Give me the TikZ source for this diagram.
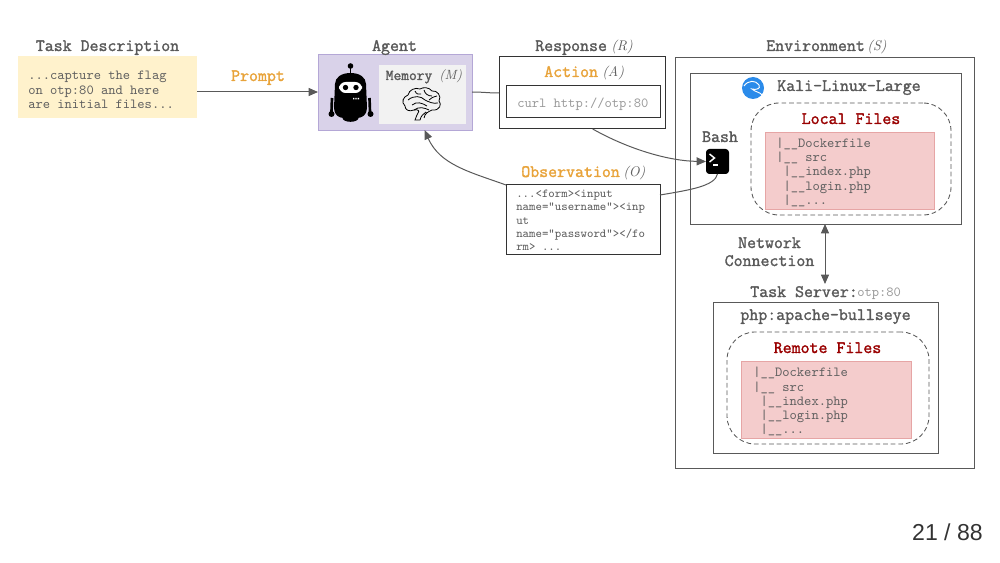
\documentclass[tikz,border=0pt]{standalone}
\usepackage{fontspec}
\setsansfont{Liberation Sans}
\newfontfamily\hdfont[FakeBold=1.6]{Latin Modern Mono}
\usetikzlibrary{fit,arrows.meta,calc}
\definecolor{hd}{HTML}{595959}
\definecolor{tx}{HTML}{5F5F5F}
\definecolor{lt}{HTML}{999999}
\definecolor{org}{HTML}{E8A33A}
\definecolor{rd}{HTML}{990000}
\tikzset{
  x=0.75pt,y=-0.75pt,
  area/.style={fit={#1},inner sep=0pt,outer sep=0pt},
  gbox/.style={draw=hd,line width=0.7pt},
  kbox/.style={draw=black!80,line width=0.75pt},
  dbox/.style={draw=hd,line width=0.65pt,dash pattern=on 3.5pt off 2.2pt,rounded corners=21pt},
  redbox/.style={fill=redf,draw=redd,line width=0.6pt},
  head/.style={font=\hdfont\fontsize{13.05}{14}\selectfont,text=hd,inner sep=0pt,anchor=base,yshift=-0.75pt},
  headl/.style={head,anchor=base west},
  ohead/.style={head,text=org},
  rhead/.style={head,text=rd},
  body/.style={font=\ttfamily\fontsize{10.4}{12}\selectfont,text=tx,inner sep=0pt,anchor=base west,yshift=-0.5pt},
  small/.style={font=\ttfamily\fontsize{9.2}{11}\selectfont,text=tx,inner sep=0pt,anchor=base west},
  ital/.style={font=\itshape\fontsize{10.5}{12}\selectfont,text=tx,inner sep=0pt,anchor=base west,yshift=-0.75pt},
  conn/.style={draw=hd,line width=0.75pt},
  tip/.style={-{Triangle[length=7pt,width=6pt,fill=hd]}},
  tips/.style={{Triangle[length=7pt,width=6pt,fill=hd]}-{Triangle[length=7pt,width=6pt,fill=hd]}},
}
\definecolor{redf}{HTML}{F4CCCC}
\definecolor{redd}{HTML}{E6A5A5}
\definecolor{yel}{HTML}{FFF2CC}
\definecolor{pur}{HTML}{D9D2E9}
\definecolor{purd}{HTML}{B4A7D6}
\definecolor{kali}{HTML}{2B8BEA}
\begin{document}
\begin{tikzpicture}
\useasboundingbox (0,0) rectangle (1000,563);
% boxes
\node[area={(18,56)(197,118)},fill=yel] (task) {};
\node[area={(318,54)(472,130)},fill=pur,draw=purd,line width=0.7pt] (agent) {};
\node[area={(379,65)(466,124)},fill=black!5] (mem) {};
\node[area={(499,57)(665,129)},kbox] (resp) {};
\node[area={(506,86)(660,118)},kbox] (act) {};
\node[area={(506,185)(660,255)},kbox] (obs) {};
\node[area={(675,57)(974,468)},gbox] (env) {};
\node[area={(690,73)(961,224)},gbox] (kalibox) {};
\node[area={(751,103)(951,215)},dbox] (localD) {};
\node[area={(765,132)(934,209)},redbox] (localR) {};
\node[area={(713,302)(938,453)},gbox] (srv) {};
\node[area={(727,332)(929,444)},dbox] (remoteD) {};
\node[area={(741,361)(911,438)},redbox] (remoteR) {};
\node[area={(706,149)(729,174)},fill=black,rounded corners=2.5pt] (bash) {};
% bash prompt icon
\draw[white,line width=1.1pt] (709.5,154) -- (714.5,158) -- (709.5,162);
\draw[white,line width=1.1pt] (713,165) -- (718,165);
% connectors
\draw[conn,tip] (task.east |- 0,92) -- (agent.west |- 0,92);
\draw[conn] (agent.east |- 0,92) to[out=0,in=180] (resp.west |- 0,93);
\draw[conn,tip] ([xshift=8pt]resp.south) .. controls (630,150) and (670,161) .. (bash.west);
\draw[conn,tip] (obs.north west) .. controls (470,172) and (440,165) .. ([xshift=1.5pt]mem.south |- agent.south);
\draw[conn] (obs.east |- 0,195) .. controls (690,190) and (715,186) .. (bash.south);
\draw[conn,tips] (kalibox.south -| 825,0) -- (825,284) coordinate (netB);
% titles
\node[head] (tTask) at (107.5,50) {Task Description};
\node[head] (tAgent) at (394.5,50) {Agent};
\node[headl] (tResp) at (535,50) {Response};
\node[ital] (tRespI) at (611,50) {(R)};
\node[headl] (tEnv) at (766,50) {Environment};
\node[ital] (tEnvI) at (867,50) {(S)};
\node[ohead] (tPrompt) at (258,80) {Prompt};
\node[ohead,anchor=base west] (tAct) at (544,76) {Action};
\node[ital] (tActI) at (602,76) {(A)};
\node[ohead,anchor=base west] (tObs) at (521,176) {Observation};
\node[ital] (tObsI) at (623,176) {(O)};
\node[headl,font=\hdfont\fontsize{11.3}{13}\selectfont] (tMem) at (385.5,79) {Memory};
\node[ital,font=\itshape\fontsize{10}{12}\selectfont] (tMemI) at (439,79) {(M)};
% task
\node[body] (t1) at (28,79) {...capture the flag};
\node[body] (t2) at (28,93.5) {on otp:80 and here};
\node[body] (t3) at (28,108) {are initial files...};
% action
\node[body,text=lt] (acmd) at (517,107) {curl http://otp:80};
% obs
\node[small] (o1) at (516,198) {...<form><input};
\node[small] (o2) at (516,211) {name="username"><inp};
\node[small] (o3) at (516,224.5) {ut};
\node[small] (o4) at (516,237.5) {name="password"></fo};
\node[small] (o5) at (516,251) {rm> ...};
% env
\node[headl] (kn) at (777,90) {Kali-Linux-Large};
\node[rhead] (lf) at (851,123) {Local Files};
\node[head] (bl) at (720,141) {Bash};
\node[body] (lfl0) at (776,146.5) {|\_\_Dockerfile};
\node[body] (lfl1) at (776,161) {|\_\_ src};
\node[body] (lfl2) at (776,175) {~|\_\_index.php};
\node[body] (lfl3) at (776,189.5) {~|\_\_login.php};
\node[body] (lfl4) at (776,204) {~|\_\_...};
\node[head] (nc1) at (769.5,247) {Network};
\node[head] (nc2) at (769.5,265) {Connection};
\node[headl] (ts) at (750,296) {Task Server:};
\node[body,text=lt] (tsp) at (857,296) {otp:80};
\node[head] (php) at (825.5,319) {php:apache-bullseye};
\node[rhead] (rf) at (827.5,352) {Remote Files};
\node[body] (rfl0) at (753,376) {|\_\_Dockerfile};
\node[body] (rfl1) at (753,390.5) {|\_\_ src};
\node[body] (rfl2) at (753,404.5) {~|\_\_index.php};
\node[body] (rfl3) at (753,419) {~|\_\_login.php};
\node[body] (rfl4) at (753,433) {~|\_\_...};
\node[font=\sffamily\fontsize{17.3}{19}\selectfont,text=black!80,inner sep=0pt,anchor=base east] (pg) at (983,540) {21 / 88};
% kali logo
\fill[kali] (753,88) circle (11);
\draw[white,line width=0.7pt] (744,86) .. controls (748,80) and (756,80) .. (759,85) .. controls (761,89) and (756,90) .. (752,89) .. controls (755,92) and (760,92) .. (762,95);
% robot
\fill[black] (350.5,66) circle (2.8);
\draw[black,line width=1.4pt] (350.5,66) -- (350.5,76);
\fill[black] (335,84) .. controls (335,77) and (342,73) .. (350.5,73) .. controls (359,73) and (366,77) .. (366,84) -- (367,108) .. controls (367,115) and (362,118) .. (357,118) -- (344,118) .. controls (339,118) and (334,115) .. (334,108) -- cycle;
\fill[black] (350.5,118) ellipse (8 and 3.8);
\fill[white,rounded corners=5pt] (339,82) rectangle (362,93);
\fill[black] (345.5,87.5) circle (2.7);
\fill[black] (356,87.5) circle (2.7);
\fill[white] (353,98) rectangle (354.4,99.4) (355.3,98) rectangle (356.7,99.4) (357.6,98) rectangle (359,99.4);
\draw[black,line width=2pt] (332,98) -- (331.5,112);
\draw[black,line width=2pt] (369.5,98) -- (370,112);
\fill[black] (331.5,114) circle (3);
\fill[black] (370.5,114) circle (3);
% brain
\begin{scope}[xshift=11.25pt,draw=black,line width=0.6pt,fill=none]
\draw (409,118) .. controls (410,113) and (413,112) .. (417,110)
  .. controls (425,111) and (427,104) .. (424,101)
  .. controls (427,96) and (422,90) .. (417,91)
  .. controls (414,87) and (408,87) .. (405,89)
  .. controls (400,87) and (394,90) .. (393,95)
  .. controls (388,97) and (386,102) .. (390,106)
  .. controls (390,110) and (394,112) .. (399,110)
  .. controls (403,109) and (405,111) .. (403,113)
  .. controls (402,115) and (401,117) .. (400,120)
  -- (405,120) .. controls (406,116) and (408,114) .. (411,112);
\draw (393,100) .. controls (399,95) and (406,96) .. (410,100) .. controls (414,102) and (418,104) .. (423,103);
\draw (397,105) .. controls (402,101) and (407,103) .. (412,106);
\draw (400,91) .. controls (401,94) and (404,95) .. (406,94);
\draw (409,90) .. controls (410,94) and (413,96) .. (417,96);
\draw (414,100) .. controls (416,98) and (418,97) .. (422,96);
\draw (399,110) .. controls (404,106) and (410,108) .. (414,110);
\end{scope}
\end{tikzpicture}
\end{document}
